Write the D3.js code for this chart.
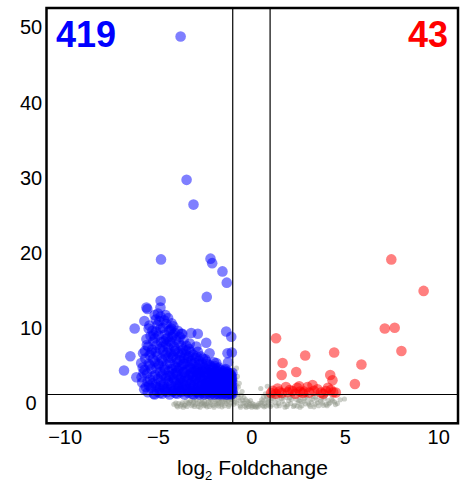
<!DOCTYPE html>
<html>
<head>
<meta charset="utf-8">
<script src="https://cdn.jsdelivr.net/npm/d3@7"></script>
<style>
  html, body { margin: 0; padding: 0; background: #fff; }
  svg { display: block; }
  text { font-family: "Liberation Sans", Arial, Helvetica, sans-serif; }
</style>
</head>
<body>
<svg id="chart" width="465" height="486"></svg>
<script>
// Significantly down-regulated genes: [log2 fold change, -log10 p]
const downGenes = [
  // scattered high-significance genes
  [-3.79,48.7],[-3.47,29.6],[-3.10,26.3],[-4.84,19.0],[-2.19,19.1],[-2.10,18.5],[-1.55,17.4],[-1.32,15.9],
  [-4.86,13.5],[-2.39,14.0],[-5.62,12.6],[-4.87,12.6],[-5.57,12.4],[-6.25,9.8],[-5.73,10.8],[-6.82,4.2],
  [-6.48,6.1],[-6.16,3.3],[-3.22,9.2],[-2.87,9.1],[-2.42,7.9],[-2.95,7.4],[-1.35,9.4],[-1.08,8.7],
  [-1.28,6.5],[-2.24,6.5],[-1.88,5.2],[-3.75,9.1],[-4.29,9.8],[-5.18,11.6],[-5.80,6.5],
  // main body
  [-5.85,2.6],[-5.78,3.9],[-5.9,5.2],[-5.7,6.8],[-5.65,2.0],[-5.82,4.6],[-5.6,7.6],[-5.74,1.7],[-5.68,5.8],[-5.88,3.3],[-5.62,8.4],[-5.72,4.3],
  [-5.55,1.3],[-5.48,2.2],[-5.42,3.0],[-5.58,3.8],[-5.35,4.4],[-5.5,5.1],[-5.27,5.7],[-5.45,6.3],[-5.32,7.0],[-5.52,7.4],[-5.25,8.1],[-5.4,8.8],
  [-5.3,9.5],[-5.46,10.2],[-5.22,1.1],[-5.38,1.9],[-5.56,2.7],[-5.28,3.4],[-5.44,4.9],[-5.36,6.6],[-5.24,9.0],[-5.5,9.8],
  [-5.18,1.0],[-5.05,1.4],[-4.92,1.8],[-5.12,2.3],[-4.85,2.7],[-5.0,3.1],[-5.15,3.6],[-4.88,4.0],[-5.08,4.5],[-4.95,4.9],[-5.17,5.4],[-4.82,5.8],
  [-5.02,6.2],[-5.13,6.7],[-4.9,7.1],[-5.06,7.6],[-4.84,8.0],[-5.16,8.5],[-4.97,8.9],[-5.1,9.4],[-4.87,9.8],[-5.03,10.3],[-4.93,10.8],[-5.12,11.0],
  [-4.86,11.4],[-5.0,11.8],[-4.9,1.2],[-5.1,2.0],[-4.98,5.1],[-4.83,3.4],
  [-4.78,1.1],[-4.62,1.5],[-4.5,1.9],[-4.7,2.4],[-4.45,2.8],[-4.58,3.2],[-4.75,3.7],[-4.42,4.1],[-4.66,4.6],[-4.53,5.0],[-4.77,5.5],[-4.47,5.9],
  [-4.6,6.3],[-4.72,6.8],[-4.44,7.2],[-4.56,7.7],[-4.69,8.1],[-4.48,8.6],[-4.64,9.0],[-4.41,9.5],[-4.74,9.9],[-4.55,10.4],[-4.67,10.9],[-4.46,11.2],
  [-4.6,11.6],[-4.52,1.3],[-4.71,2.0],[-4.43,3.5],[-4.63,4.3],[-4.49,6.6],[-4.76,7.4],[-4.58,8.4],
  [-4.38,1.0],[-4.22,1.4],[-4.08,1.8],[-4.3,2.2],[-4.02,2.6],[-4.17,3.1],[-4.35,3.5],[-4.05,3.9],[-4.25,4.4],[-4.12,4.8],[-4.36,5.2],[-4.01,5.7],
  [-4.2,6.1],[-4.32,6.5],[-4.06,7.0],[-4.15,7.4],[-4.28,7.9],[-4.03,8.3],[-4.24,8.7],[-4.1,9.2],[-4.34,9.6],[-4.18,10.1],[-4.27,10.5],[-4.07,1.2],
  [-4.33,1.7],[-4.13,2.9],[-4.21,3.7],[-4.04,4.6],[-4.29,5.9],[-4.11,6.8],[-4.37,8.1],[-4.19,9.0],
  [-3.98,1.1],[-3.82,1.5],[-3.68,1.9],[-3.9,2.3],[-3.62,2.8],[-3.77,3.2],[-3.95,3.6],[-3.65,4.0],[-3.86,4.5],[-3.72,4.9],[-3.97,5.3],[-3.61,5.8],
  [-3.8,6.2],[-3.92,6.6],[-3.66,7.0],[-3.75,7.5],[-3.88,7.9],[-3.63,8.3],[-3.84,8.7],[-3.7,9.1],[-3.94,9.5],[-3.78,1.3],[-3.93,1.8],[-3.67,2.5],
  [-3.85,3.0],[-3.71,3.8],[-3.96,4.2],[-3.64,5.1],[-3.83,5.6],[-3.73,6.5],
  [-3.58,1.0],[-3.42,1.4],[-3.28,1.8],[-3.5,2.2],[-3.22,2.6],[-3.37,3.0],[-3.55,3.4],[-3.25,3.8],[-3.46,4.3],[-3.32,4.7],[-3.57,5.1],[-3.21,5.5],
  [-3.4,5.9],[-3.52,6.3],[-3.26,6.7],[-3.35,7.1],[-3.48,7.5],[-3.3,7.8],[-3.38,1.2],[-3.53,1.7],[-3.27,2.4],[-3.45,2.9],[-3.31,3.6],[-3.56,4.0],
  [-3.24,4.5],[-3.43,5.3],[-3.34,6.1],[-3.49,6.9],
  [-3.18,1.1],[-3.02,1.5],[-2.88,1.9],[-3.1,2.3],[-2.82,2.7],[-2.97,3.1],[-3.15,3.5],[-2.85,3.9],[-3.06,4.3],[-2.92,4.7],[-3.17,5.1],[-2.81,5.5],
  [-3.0,5.9],[-3.12,6.3],[-2.87,6.7],[-2.98,1.3],[-3.13,1.8],[-2.86,2.5],[-3.04,2.9],[-2.91,3.6],[-3.16,4.0],[-2.84,4.5],[-3.03,5.2],[-2.94,6.1],
  [-3.08,1.0],[-2.83,1.2],[-3.11,3.3],[-2.95,4.1],
  [-2.78,1.0],[-2.62,1.4],[-2.48,1.8],[-2.7,2.2],[-2.42,2.6],[-2.57,3.0],[-2.75,3.4],[-2.45,3.8],[-2.66,4.2],[-2.52,4.6],[-2.77,5.0],[-2.41,5.4],
  [-2.6,5.8],[-2.72,6.1],[-2.58,1.2],[-2.73,1.7],[-2.46,2.4],[-2.64,2.8],[-2.51,3.5],[-2.76,3.9],[-2.44,4.4],[-2.63,5.1],[-2.54,1.0],[-2.68,1.5],
  [-2.43,2.0],[-2.69,3.2],[-2.55,4.0],[-2.47,5.7],
  [-2.38,1.1],[-2.22,1.5],[-2.08,1.9],[-2.3,2.3],[-2.02,2.7],[-2.17,3.1],[-2.35,3.5],[-2.05,3.9],[-2.26,4.3],[-2.12,4.7],[-2.37,5.1],[-2.01,5.3],
  [-2.2,1.0],[-2.33,1.7],[-2.06,2.4],[-2.24,2.9],[-2.11,3.6],[-2.36,4.0],[-2.04,4.5],[-2.23,4.9],[-2.14,1.3],[-2.28,2.0],[-2.03,3.3],[-2.19,3.8],
  [-2.31,2.6],[-2.09,1.2],[-2.27,1.3],[-2.16,2.1],
  [-1.98,1.0],[-1.82,1.4],[-1.68,1.8],[-1.9,2.2],[-1.62,2.6],[-1.77,3.0],[-1.95,3.4],[-1.65,3.8],[-1.86,4.2],[-1.72,4.6],[-1.97,4.8],[-1.78,1.2],
  [-1.93,1.7],[-1.66,2.4],[-1.84,2.8],[-1.71,3.5],[-1.96,3.9],[-1.64,4.3],[-1.83,4.5],[-1.74,1.0],[-1.88,1.5],[-1.63,2.0],[-1.89,3.2],[-1.75,4.0],
  [-1.67,1.3],[-1.91,2.6],[-1.8,3.7],[-1.7,2.9],[-1.85,1.1],[-1.61,3.3],
  [-1.58,1.1],[-1.46,1.4],[-1.34,1.8],[-1.52,2.2],[-1.31,2.6],[-1.42,3.0],[-1.56,3.4],[-1.33,3.8],[-1.49,4.1],[-1.38,4.4],[-1.55,1.0],[-1.43,1.7],
  [-1.57,2.5],[-1.36,2.9],[-1.5,3.6],[-1.32,4.0],[-1.45,1.2],[-1.59,1.9],[-1.37,2.3],[-1.53,3.1],[-1.41,3.5],[-1.35,1.0],[-1.48,2.0],[-1.54,2.8],
  [-1.39,1.5],[-1.44,2.7],[-1.51,1.4],[-1.3,3.3],[-1.47,3.9],[-1.4,4.2],
  [-1.28,1.0],[-1.18,1.3],[-1.06,1.6],[-1.24,1.9],[-1.03,2.2],[-1.14,2.5],[-1.27,2.8],[-1.05,3.1],[-1.2,3.4],[-1.1,3.7],[-1.26,4.0],[-1.02,3.9],
  [-1.16,1.1],[-1.25,1.5],[-1.04,1.8],[-1.19,2.1],[-1.08,2.6],[-1.29,3.2],[-1.12,3.5],[-1.22,1.2],[-1.01,1.4],[-1.15,1.9],[-1.23,2.4],[-1.07,2.9],
  [-1.17,3.0],[-1.09,1.0],[-1.21,1.7],[-1.13,2.3],[-1.03,2.7],[-1.26,3.6],[-1.11,1.2],[-1.19,2.8],[-1.05,3.4],[-1.27,2.1],[-1.02,1.1],[-1.14,3.8],
  [-4.9,2.1],[-4.4,2.5],[-3.9,2.0],[-3.4,1.6],[-2.9,1.4],[-2.5,1.6],[-2.1,1.6],[-1.7,1.6],[-1.2,1.5],[-4.6,1.7],[-4.15,1.5],[-3.6,1.5],
  [-3.1,2.0],[-2.6,2.1],[-2.25,2.2],[-1.9,1.9],[-1.45,2.4],[-1.05,2.0],[-5.3,2.5],[-3.8,2.6],[-1.05,6.6],[-1.25,5.3]
];

// Significantly up-regulated genes
const upGenes = [
  [7.49,19.0],[9.22,14.8],[7.14,9.8],[7.67,9.9],[8.03,6.8],[5.89,5.0],[5.54,2.4],[1.32,8.5],
  [1.67,5.2],[1.62,3.6],[2.40,4.0],[2.88,6.2],[4.43,6.6],[4.22,3.6],[4.34,2.9],
  [1.05,1.2],[1.14,1.5],[1.3,1.1],[1.5,1.4],[1.62,1.2],[1.85,2.0],[1.95,1.3],[2.05,1.6],[2.2,1.45],[2.35,1.1],
  [2.56,2.1],[2.6,1.4],[2.75,1.2],[2.83,1.4],[3.0,2.0],[3.1,1.25],[3.27,2.25],[3.35,1.5],[3.54,1.7],[3.72,1.25],
  [3.85,1.1],[3.99,1.45],[4.1,1.9],[4.25,1.6],[4.38,1.3],[4.52,1.25],[1.4,1.8],[2.45,1.9]
];

// Genes below the significance / fold-change cut-offs
const otherGenes = [
  [-4.15,-0.3],[-4.0,-0.5],[-3.9,-0.2],[-3.8,-0.55],[-3.7,-0.1],[-3.6,-0.4],[-3.5,0.1],[-3.45,-0.6],[-3.35,-0.25],[-3.25,0.2],
  [-3.2,-0.5],[-3.1,-0.05],[-3.0,-0.35],[-2.95,0.3],[-2.85,-0.6],[-2.8,0.05],[-2.7,-0.3],[-2.65,0.4],[-2.55,-0.5],[-2.5,0.1],
  [-2.4,-0.2],[-2.35,0.5],[-2.25,-0.6],[-2.2,-0.1],[-2.1,0.25],[-2.05,-0.45],[-1.95,0.6],[-1.9,-0.15],[-1.8,0.2],[-1.75,-0.55],
  [-1.7,0.45],[-1.6,-0.3],[-1.55,0.0],[-1.5,0.7],[-1.45,-0.5],[-1.4,0.3],[-1.35,-0.2],[-1.3,0.8],[-1.25,0.1],[-1.2,-0.4],
  [-1.15,0.5],[-1.1,-0.1],[-1.05,0.9],[-1.02,0.3],[-3.55,-0.45],[-3.05,-0.6],[-2.6,-0.15],[-2.15,-0.35],[-1.65,-0.05],[-1.85,-0.4],
  [-2.45,-0.45],[-2.9,-0.2],[-3.3,0.0],[-3.75,-0.35],[-4.05,-0.15],
  [-3.95,-0.65],[-3.65,-0.7],[-3.4,-0.1],[-3.15,-0.3],[-2.75,-0.7],[-2.5,-0.3],[-2.3,0.0],[-2.0,-0.7],[-1.78,-0.2],[-1.58,-0.65],
  [-1.38,0.05],[-1.22,-0.6],[-1.12,0.3],[-1.42,0.55],[-1.62,0.35],[-1.92,0.1],[-2.18,0.4],[-2.38,-0.65],[-2.68,-0.1],[-3.08,0.3],
  [-0.95,-0.3],[-0.9,0.4],[-0.85,1.2],[-0.82,1.6],[-0.8,4.5],[-0.75,3.4],[-0.7,2.0],[-0.65,2.5],[-0.62,0.2],[-0.6,-0.5],
  [-0.55,0.9],[-0.5,1.4],[-0.45,-0.2],[-0.4,0.6],[-0.35,-0.55],[-0.3,0.3],[-0.25,-0.4],[-0.2,0.1],[-0.15,-0.6],[-0.1,-0.3],
  [-0.05,0.2],[0.0,-0.5],[0.05,-0.2],[0.1,-0.55],[0.15,-0.35],[0.2,-0.6],[0.3,-0.45],[0.35,-0.65],[0.45,-0.4],[0.5,1.8],
  [0.55,0.3],[0.6,-0.5],[0.65,0.7],[0.7,-0.2],[0.75,1.1],[0.8,0.4],[0.85,2.1],[0.9,-0.4],[0.95,0.9],[-0.72,1.0],
  [-0.88,0.0],[0.4,-0.2],[0.62,0.1],[0.78,-0.55],[0.92,0.15],
  [-0.92,0.8],[-0.78,-0.15],[-0.68,0.55],[-0.58,-0.7],[-0.48,0.25],[-0.38,-0.1],[-0.28,-0.7],[-0.12,-0.1],[0.02,-0.7],[0.25,-0.7],
  [0.52,-0.1],[0.68,-0.65],[0.82,0.75],[0.88,-0.1],[-0.84,3.0],[-0.78,2.2],
  [1.05,0.2],[1.1,-0.4],[1.2,0.7],[1.3,-0.1],[1.4,0.4],[1.5,-0.5],[1.55,0.9],[1.65,0.1],[1.75,-0.3],[1.85,0.6],
  [1.9,-0.6],[2.0,0.2],[2.1,-0.2],[2.2,0.8],[2.3,-0.45],[2.4,0.35],[2.5,-0.1],[2.6,0.6],[2.7,-0.5],[2.8,0.1],
  [2.9,-0.25],[3.0,0.5],[3.1,-0.4],[3.2,0.0],[3.3,0.7],[3.4,-0.3],[3.5,0.3],[3.6,-0.5],[3.7,0.1],[3.8,-0.15],
  [3.9,0.5],[4.0,-0.35],[4.1,0.2],[4.2,-0.1],[4.3,0.4],[4.45,0.0],[4.6,-0.2],[4.75,0.3],[4.98,0.4],[1.25,0.95],
  [1.6,0.45],[2.05,0.55],[2.55,0.2],[2.95,0.9],[3.45,0.65],[3.95,0.85],[1.35,-0.55],[2.25,-0.6],[3.15,-0.6],[4.05,-0.5],
  [1.15,0.45],[1.45,-0.2],[1.7,0.7],[1.95,-0.35],[2.15,0.35],[2.45,-0.55],[2.65,0.05],[2.85,0.45],[3.05,-0.15],[3.25,0.35],
  [3.55,-0.1],[3.75,0.5],[3.85,-0.45],[4.15,-0.25],[4.35,0.15],[4.5,-0.35],[1.8,-0.7],[2.6,-0.7],[3.35,-0.65],[1.02,-0.6]
];

const xTickValues = [-10, -5, 0, 5, 10];
const yTickValues = [0, 10, 20, 30, 40, 50];
const foldCutoffs = [-1, 1];
const pCutoff = 1;

const svg = d3.select("#chart");
const plot = { left: 46.5, right: 458, top: 8, bottom: 423.3 };

const x = d3.scaleLinear().domain([-10.97, 11.06]).range([plot.left, plot.right]);
const y = d3.scaleLinear().domain([-2.84, 52.5]).range([plot.bottom, plot.top]);

svg.append("defs").append("clipPath").attr("id", "plot-clip")
  .append("rect")
  .attr("x", plot.left).attr("y", plot.top)
  .attr("width", plot.right - plot.left).attr("height", plot.bottom - plot.top);

const pts = svg.append("g").attr("clip-path", "url(#plot-clip)");

pts.append("g").selectAll("circle").data(otherGenes).join("circle")
  .attr("cx", d => x(d[0])).attr("cy", d => y(d[1])).attr("r", 2.6)
  .attr("fill", "#8f9488").attr("fill-opacity", 0.45);

pts.append("g").selectAll("circle").data(downGenes).join("circle")
  .attr("cx", d => x(d[0])).attr("cy", d => y(d[1])).attr("r", 5.3)
  .attr("fill", "#0000ff").attr("fill-opacity", 0.5);

pts.append("g").selectAll("circle").data(upGenes).join("circle")
  .attr("cx", d => x(d[0])).attr("cy", d => y(d[1])).attr("r", 5.3)
  .attr("fill", "#ff0000").attr("fill-opacity", 0.5);

// cut-off lines
const lines = svg.append("g").attr("stroke", "#000").attr("stroke-width", 1.2);
lines.selectAll("line.v").data(foldCutoffs).join("line").attr("class", "v")
  .attr("x1", d => x(d)).attr("x2", d => x(d))
  .attr("y1", plot.top).attr("y2", plot.bottom);
lines.append("line")
  .attr("x1", plot.left).attr("x2", plot.right)
  .attr("y1", y(pCutoff)).attr("y2", y(pCutoff));

// frame
svg.append("rect")
  .attr("x", plot.left).attr("y", plot.top)
  .attr("width", plot.right - plot.left).attr("height", plot.bottom - plot.top)
  .attr("fill", "none").attr("stroke", "#000").attr("stroke-width", 2.5);

// axes
const xAxis = svg.append("g")
  .attr("transform", `translate(0,${plot.bottom})`)
  .call(d3.axisBottom(x).tickValues(xTickValues).tickSize(0).tickPadding(0).tickFormat(d3.format("")));
xAxis.select(".domain").remove();
xAxis.selectAll("text")
  .attr("y", 20.5).attr("dy", null)
  .attr("fill", "#000")
  .style("font-size", "20px").style("font-family", "'Liberation Sans', Arial, sans-serif");

const yAxis = svg.append("g")
  .attr("transform", "translate(31,0)")
  .call(d3.axisLeft(y).tickValues(yTickValues).tickSize(0).tickPadding(0));
yAxis.select(".domain").remove();
yAxis.selectAll("text")
  .attr("x", 0).attr("dy", "0.36em")
  .attr("text-anchor", "middle").attr("fill", "#000")
  .style("font-size", "20px").style("font-family", "'Liberation Sans', Arial, sans-serif");

// axis title
const title = svg.append("text")
  .attr("x", 252.5).attr("y", 475)
  .attr("text-anchor", "middle")
  .style("font-size", "21px");
title.append("tspan").text("log");
title.append("tspan").attr("dy", 5).style("font-size", "13px").text("2");
title.append("tspan").attr("dy", -5).text(" Foldchange");

// gene counts
svg.append("text")
  .attr("x", 56).attr("y", 46.5)
  .style("font-size", "36px").style("font-weight", "bold")
  .attr("fill", "#0000ff")
  .text(downGenes.length);
svg.append("text")
  .attr("x", 448).attr("y", 46.5)
  .attr("text-anchor", "end")
  .style("font-size", "36px").style("font-weight", "bold")
  .attr("fill", "#ff0000")
  .text(upGenes.length);
</script>
</body>
</html>
